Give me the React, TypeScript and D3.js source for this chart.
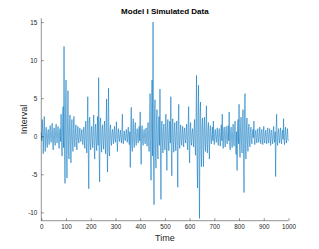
import React, { useEffect, useRef } from "react";
import * as d3 from "d3";

const intervalValues = [
  0.5, -0.6, 2.2, 0.3, -2.3, 0.8, 2.6, -0.4, -2.0, 0.6, 1.2, -0.7, -1.5, 0.4, 0.9, -0.5, -1.1, 0.7, 1.4, -0.3,
  -0.8, 0.5, 1.7, -0.6, -1.8, 0.4, 1.1, -0.5, -1.2, 0.7, 1.6, -0.3, -0.9, 0.6, 1.3, -0.4, -1.6, 0.5, 1.0, -0.7,
  2.9, -0.8, -2.6, 1.2, 3.9, -1.5, 11.8, -2.0, -6.2, 3.1, 7.4, -2.4, -5.5, 1.9, 6.0, -1.6, -3.0, 1.3, 2.8, -1.1,
  -3.5, 0.9, 2.2, -0.8, -2.0, 1.0, 2.6, -0.6, -1.4, 0.5, 1.5, -0.7, -1.8, 0.4, 1.3, -0.5, -0.9, 0.3, 1.1, -0.4,
  -0.7, 0.3, 0.9, -0.4, -1.1, 0.5, 1.2, -0.6, -1.6, 0.7, 2.0, -0.9, -2.2, 1.1, 5.2, -1.8, -6.9, 2.0, 2.5, -1.0,
  -1.8, 0.6, 1.3, -0.5, -1.5, 0.8, 2.8, -1.0, -3.0, 0.9, 1.6, -0.7, -1.9, 0.8, 2.6, -1.2, 7.7, -2.1, -6.0, 1.8,
  2.4, -0.9, -2.1, 0.8, 1.5, -0.6, -1.7, 0.7, 2.0, -0.8, -2.3, 1.2, 4.9, -1.5, -4.7, 1.7, 6.3, -1.9, -2.6, 0.9,
  1.5, -0.5, -1.2, 0.4, 0.9, -0.3, -1.0, 0.5, 1.3, -0.4, -0.8, 0.6, 1.9, -0.5, -2.0, 0.4, 1.0, -0.3, -0.7, 0.2,
  0.8, -0.2, -0.9, 0.4, 2.9, -0.6, -1.0, 0.3, 0.7, -0.4, -0.6, 0.3, 0.9, -0.2, -0.8, 0.5, 1.2, -0.4, -1.1, 0.6,
  -4.1, 1.2, 3.8, -1.1, -2.0, 0.9, 2.3, -0.8, -1.5, 0.6, 1.8, -0.5, -1.2, 0.4, 1.0, -0.3, -0.9, 0.5, 1.3, -0.6,
  3.2, -0.9, -3.7, 0.8, 1.4, -0.5, -1.2, 0.4, 0.9, -0.3, -1.0, 0.5, 1.1, -0.6, -1.3, 0.7, 1.8, -0.8, -2.0, 1.0,
  5.6, -1.8, -5.8, 2.2, 7.4, -2.6, 15.0, -3.4, -9.0, 2.8, 4.8, -2.2, -4.2, 1.9, 3.5, -1.6, -3.0, 1.4, 2.6, -1.2,
  6.2, -1.5, -8.3, 1.3, 2.0, -0.8, -2.2, 0.9, 1.6, -0.6, -1.8, 0.7, 2.9, -1.0, -4.5, 1.1, 2.2, -0.7, -1.9, 0.8,
  2.0, -0.9, 5.2, -1.4, -5.2, 1.5, 2.3, -0.8, -2.1, 0.9, 1.8, -0.7, -1.9, 0.6, 2.0, -1.2, -6.7, 1.6, 4.2, -1.1,
  -1.6, 0.5, 1.5, -0.6, -1.2, 0.4, 1.3, -0.5, -1.4, 0.6, 1.1, -0.4, -0.9, 0.5, 1.6, -0.7, -1.8, 0.9, 3.9, -1.2,
  -3.5, 0.8, 1.8, -0.6, -1.2, 0.5, 1.0, -0.4, -1.4, 0.9, 2.2, -1.1, -2.5, 2.0, 8.0, -2.8, -6.8, 2.4, 6.7, -3.2,
  -10.8, 2.6, 4.5, -1.9, -4.0, 1.4, 2.4, -1.3, -4.0, 1.2, 2.5, -0.9, -2.0, 1.0, 4.0, -1.1, -2.2, 0.8, 1.8, -0.7,
  -3.0, 0.6, 1.4, -0.5, -1.0, 0.3, 1.2, -0.6, 2.0, -0.4, -1.1, 0.5, 0.9, -0.3, -0.8, 0.4, 1.1, -0.5, -1.2, 0.6,
  1.0, -0.4, -1.3, 0.5, 1.5, -0.6, 2.9, -0.8, -1.6, 0.7, 1.2, -0.5, -1.4, 0.6, 1.3, -0.4, -1.0, 0.5, 1.4, -0.6,
  3.2, -0.9, -1.8, 0.7, 1.2, -0.5, -1.5, 0.6, 1.6, -0.7, -1.3, 0.8, 2.0, -0.9, -2.4, 0.6, -4.5, 1.3, 2.2, -1.0,
  4.2, -1.3, -2.8, 1.1, 2.5, -0.9, -2.2, 1.0, 3.5, -1.6, -7.4, 2.0, 5.6, -1.7, -3.0, 1.2, 2.4, -0.9, -2.0, 0.8,
  1.6, -0.6, -1.4, 0.5, 1.2, -0.4, -1.0, 0.3, 0.9, -0.2, 2.0, -0.5, -1.1, 0.4, 0.8, -0.3, -0.9, 0.4, 1.0, -0.5,
  -0.8, 0.3, 1.2, -0.4, -1.0, 0.5, 0.9, -0.3, -1.1, 0.4, 1.3, -0.5, -0.9, 0.3, 0.8, -0.4, -1.0, 0.5, 1.1, -0.3,
  -0.9, 0.4, 1.0, -0.3, -1.2, 0.5, 0.8, -0.4, -1.0, 0.3, 1.3, -0.5, -0.8, 0.6, -5.3, 1.0, 2.9, -0.6, -1.2, 0.4,
  1.0, -0.3, -0.9, 0.4, 1.1, -0.5, -1.0, 0.3, 0.8, -0.4, 2.3, -0.6, -1.1, 0.5, 1.2, -0.4, -0.9, 0.3, 1.0, -0.5, -0.6,
];
const sampleStep = 2;
const xTicks = [0, 100, 200, 300, 400, 500, 600, 700, 800, 900, 1000];
const yTicks = [-10, -5, 0, 5, 10, 15];

const W = 319;
const H = 249;

export default function App() {
  const svgRef = useRef<SVGSVGElement>(null);

  useEffect(() => {
    const svg = d3.select(svgRef.current);
    svg.selectAll("*").remove();
    const left = 41.3, right = 288.5, top = 18.3, bottom = 220.7;

    const x = d3.scaleLinear().domain([0, 1000]).range([left, right]);
    const y = d3.scaleLinear().domain([-11.1, 15.5]).range([bottom, top]);
    const axisColor = "#262626";

    const line = d3
      .line<number>()
      .x((d, i) => x(i * sampleStep))
      .y((d) => y(d));

    svg.append("path")
      .datum(intervalValues)
      .attr("fill", "none")
      .attr("stroke", "#0072BD")
      .attr("stroke-width", 0.55)
      .attr("stroke-linejoin", "round")
      .attr("d", line);

    const gx = svg.append("g").attr("transform", `translate(0,${bottom})`)
      .call(d3.axisBottom(x).tickValues(xTicks).tickSizeInner(-2.5).tickSizeOuter(0).tickPadding(4)
        .tickFormat((d) => String(d)));
    const gy = svg.append("g").attr("transform", `translate(${left},0)`)
      .call(d3.axisLeft(y).tickValues(yTicks).tickSizeInner(-2.5).tickSizeOuter(0).tickPadding(4)
        .tickFormat((d) => String(d)));

    [gx, gy].forEach((g) => {
      g.select(".domain").attr("stroke", axisColor).attr("stroke-width", 0.5);
      g.selectAll(".tick line").attr("stroke", axisColor).attr("stroke-width", 0.5);
      g.selectAll(".tick text")
        .attr("fill", axisColor)
        .attr("font-family", "Liberation Sans, Arial, sans-serif")
        .attr("font-size", 6.3);
    });
    gy.select(".domain").attr("d", `M0,${top}V${bottom}`);
    gx.select(".domain").attr("d", `M${left},0H${right}`);

    svg.append("text")
      .attr("x", (left + right) / 2)
      .attr("y", 14)
      .attr("text-anchor", "middle")
      .attr("font-family", "Liberation Sans, Arial, sans-serif")
      .attr("font-weight", "bold")
      .attr("font-size", 8)
      .attr("fill", "#000")
      .text("Model I Simulated Data");

    svg.append("text")
      .attr("x", (left + right) / 2)
      .attr("y", 241)
      .attr("text-anchor", "middle")
      .attr("font-family", "Liberation Sans, Arial, sans-serif")
      .attr("font-size", 9)
      .attr("fill", axisColor)
      .text("Time");

    svg.append("text")
      .attr("transform", `translate(27,${(top + bottom) / 2}) rotate(-90)`)
      .attr("text-anchor", "middle")
      .attr("font-family", "Liberation Sans, Arial, sans-serif")
      .attr("font-size", 9)
      .attr("fill", axisColor)
      .text("Interval");
  }, []);

  return (
    <div style={{ position: "absolute", left: 0, top: 0 }}>
      <svg ref={svgRef} width={W} height={H} style={{ display: "block", background: "#fff" }} />
    </div>
  );
}
